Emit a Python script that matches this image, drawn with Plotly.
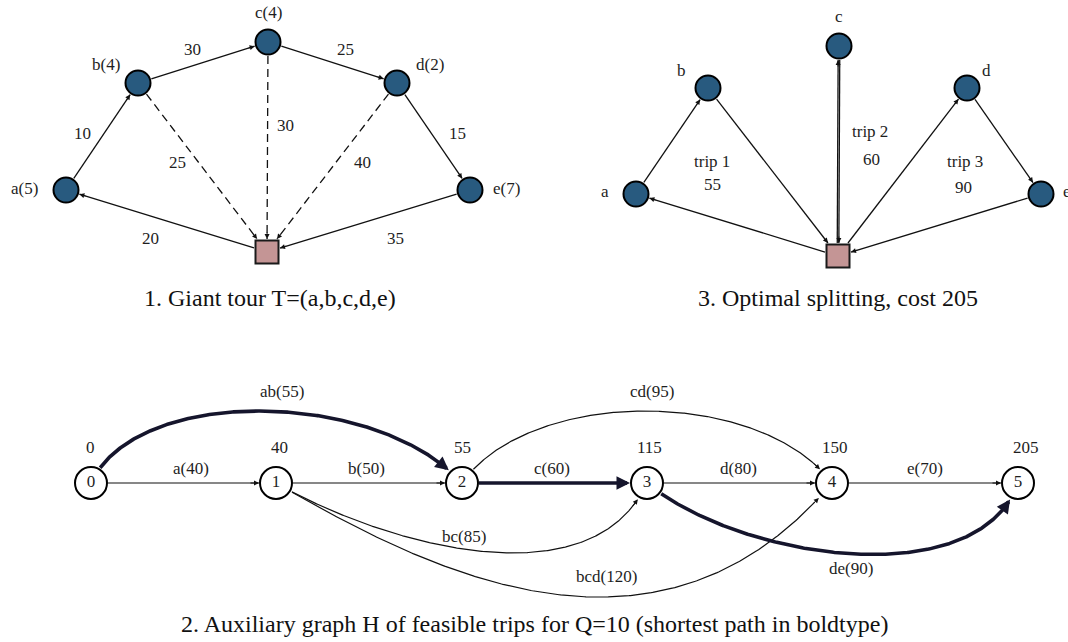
import numpy as np
import plotly.graph_objects as go

# ------------------------------------------------------------------ data
CUSTOMERS = ["a", "b", "c", "d", "e"]
DEMANDS = [5, 4, 4, 2, 7]
TOUR_COSTS = [10, 30, 25, 15]          # a->b, b->c, c->d, d->e
RETURN_COSTS = [25, 30, 40]            # b, c, d -> depot (dashed)
DEPOT_A_COST = 20
E_DEPOT_COST = 35
TRIP_NAMES = ["trip 1", "trip 2", "trip 3"]
TRIP_COSTS = [55, 60, 90]
AUX_NODES = [0, 1, 2, 3, 4, 5]
AUX_LABELS = [0, 40, 55, 115, 150, 205]
ARC_FROM = [0, 1, 2, 3, 4, 0, 2, 1, 1, 3]
ARC_TO = [1, 2, 3, 4, 5, 2, 4, 3, 4, 5]
ARC_TRIP = ["a", "b", "c", "d", "e", "ab", "cd", "bc", "bcd", "de"]
ARC_COST = [40, 50, 60, 80, 70, 55, 95, 85, 120, 90]
SHORTEST = [(0, 2), (2, 3), (3, 5)]
CAPTIONS = ["1. Giant tour T=(a,b,c,d,e)",
            "3. Optimal splitting, cost 205",
            "2. Auxiliary graph H of feasible trips for Q=10 (shortest path in boldtype)"]

# ---------------------------------------------------------------- layout
W, H = 1068, 642
FONT = "Liberation Serif"
LBL = 17
CAP = 24
BLUE = "#285a7f"
DEPOT_FILL = "#c49595"
INK = "#111111"
BOLD = "#15152c"
R_CUST = 14
H_DEPOT = 13
R_AUX = 17

P1 = {"a": (66, 190), "b": (138, 83), "c": (268, 42), "d": (397, 83), "e": (470, 190), "D": (267, 252)}
P2 = {"a": (636, 194), "b": (708, 88), "c": (839, 46), "d": (967, 88), "e": (1041, 194), "D": (838, 256)}
AUX_X = [91, 276, 462, 647, 832, 1018]
AUX_Y = 483

P1_NODE_LBL = [(24, 188), (106, 64), (268, 12), (430, 64), (506, 188)]
P1_TOUR_LBL = [(82, 133), (192, 49), (345, 49), (457, 133)]
P1_RET_LBL = [(177, 162), (285, 125), (362, 162)]
P1_DA_LBL = (150, 238)
P1_ED_LBL = (395, 238)
P2_NODE_LBL = [(605, 191), (681, 70), (839, 16), (986, 70), (1067, 191)]
P2_TRIP_LBL = [(712, 161), (870, 131), (965, 161)]
P2_COST_LBL = [(712, 184), (871, 159), (963, 187)]
AUX_TOP_Y = 447
AUX_TOP_DX = [-1, 3, 0, 2, 3, 8]
ARC_LBL = [(191, 468), (366, 468), (552, 468), (738, 468), (925, 468),
           (282, 391), (652, 391), (464, 536), (606, 576), (851, 568)]
# cubic control points (relative offsets from start / end nodes) for curved arcs
CURVE_CTRL = {(0, 2): ((45, -98), (-85, -94)),
              (2, 4): ((68, -96), (-72, -96)),
              (1, 3): ((100, 58), (-57, 123)),
              (1, 4): ((150, 87), (-174, 206)),
              (3, 5): ((93, 77), (-40, 112))}
CAPTION_POS = [(270, 298), (838, 298), (534, 624)]

fig = go.Figure()
annotations = []


def add_line(xs, ys, width=1.3, color=INK, dash="solid"):
    fig.add_trace(go.Scatter(x=list(xs), y=list(ys), mode="lines",
                             line=dict(color=color, width=width, dash=dash),
                             hoverinfo="skip"))


def add_head(tip, u, width=1.0, color=INK, size=1.0, back=8):
    annotations.append(dict(x=tip[0], y=tip[1], ax=tip[0] - back * u[0], ay=tip[1] - back * u[1],
                            xref="x", yref="y", axref="x", ayref="y", text="",
                            showarrow=True, arrowhead=2, arrowsize=size, arrowwidth=width,
                            arrowcolor=color, standoff=0))


def add_text(pos, text, size=LBL, color="#1e1e1e"):
    annotations.append(dict(x=pos[0], y=pos[1], xref="x", yref="y", text=text,
                            showarrow=False, font=dict(family=FONT, size=size, color=color)))


def boundary(u, kind):
    if kind == "D":
        return H_DEPOT / max(abs(u[0]), abs(u[1]))
    return R_CUST


def straight(p, q, kp, kq, dash="solid", offset=0.0, width=1.3):
    p = np.array(p, float)
    q = np.array(q, float)
    u = (q - p) / np.linalg.norm(q - p)
    n = np.array([-u[1], u[0]])
    s = p + u * boundary(u, kp) + n * offset
    e = q - u * boundary(u, kq) + n * offset
    add_line([s[0], e[0]], [s[1], e[1]], dash=dash, width=width)
    add_head(e, u, width=1.0)


# -------------------------------------------------- panel 1: giant tour
keys = CUSTOMERS
for i in range(4):
    straight(P1[keys[i]], P1[keys[i + 1]], "c", "c")
straight(P1["e"], P1["D"], "c", "D")
straight(P1["D"], P1["a"], "D", "c")
for k in ["b", "c", "d"]:
    straight(P1[k], P1["D"], "c", "D", dash="8px,5px")

# -------------------------------------------------- panel 2: split trips
straight(P2["D"], P2["a"], "D", "c")
straight(P2["a"], P2["b"], "c", "c")
straight(P2["b"], P2["D"], "c", "D")
straight(P2["D"], P2["c"], "D", "c", offset=-0.8)
straight(P2["c"], P2["D"], "c", "D", offset=-0.8)
straight(P2["D"], P2["d"], "D", "c")
straight(P2["d"], P2["e"], "c", "c")
straight(P2["e"], P2["D"], "c", "D")

# -------------------------------------------------- panel 3: auxiliary graph
for i, (f, t) in enumerate(zip(ARC_FROM, ARC_TO)):
    bold = (f, t) in SHORTEST
    lw = 3.6 if bold else 1.2
    col = BOLD if bold else INK
    p0 = np.array([AUX_X[f], AUX_Y], float)
    p3 = np.array([AUX_X[t], AUX_Y], float)
    if (f, t) in CURVE_CTRL:
        d1, d2 = CURVE_CTRL[(f, t)]
        c1 = p0 + np.array(d1)
        c2 = p3 + np.array(d2)
        tt = np.linspace(0, 1, 400)[:, None]
        pts = ((1 - tt) ** 3) * p0 + 3 * ((1 - tt) ** 2) * tt * c1 + 3 * (1 - tt) * tt ** 2 * c2 + tt ** 3 * p3
        keep = (np.linalg.norm(pts - p0, axis=1) > R_AUX + 0.5) & (np.linalg.norm(pts - p3, axis=1) > R_AUX + 1)
        pts = pts[keep]
        tip = pts[-1]
        u = pts[-1] - pts[-12]
        u = u / np.linalg.norm(u)
        add_line(pts[:-3, 0], pts[:-3, 1], width=lw, color=col)
        add_head(tip, u, width=lw if bold else 1.0, color=col, size=0.75 if bold else 1.0, back=10)
    else:
        u = np.array([1.0, 0.0])
        s = p0 + u * R_AUX
        e = p3 - u * R_AUX
        add_line([s[0], e[0] - (3 if bold else 0)], [s[1], e[1]], width=lw, color=col)
        add_head(e, u, width=lw if bold else 1.0, color=col, size=0.75 if bold else 1.0, back=10)
    add_text(ARC_LBL[i], f"{ARC_TRIP[i]}({ARC_COST[i]})")

# -------------------------------------------------- nodes
for P in (P1, P2):
    fig.add_trace(go.Scatter(x=[P[k][0] for k in CUSTOMERS], y=[P[k][1] for k in CUSTOMERS],
                             mode="markers", marker=dict(size=25, color=BLUE, line=dict(color="#000", width=2)),
                             hoverinfo="skip"))
    fig.add_trace(go.Scatter(x=[P["D"][0]], y=[P["D"][1]], mode="markers",
                             marker=dict(symbol="square", size=23, color=DEPOT_FILL,
                                         line=dict(color="#1a1a1a", width=2)),
                             hoverinfo="skip"))

fig.add_trace(go.Scatter(x=AUX_X, y=[AUX_Y] * len(AUX_X), mode="markers+text",
                         text=[str(n) for n in AUX_NODES], textposition="middle center",
                         textfont=dict(family=FONT, size=LBL, color="#1e1e1e"),
                         marker=dict(size=32, color="white", line=dict(color="#000", width=2)),
                         hoverinfo="skip"))

# -------------------------------------------------- texts
for i, k in enumerate(CUSTOMERS):
    add_text(P1_NODE_LBL[i], f"{k}({DEMANDS[i]})")
    add_text(P2_NODE_LBL[i], k)
for i, c in enumerate(TOUR_COSTS):
    add_text(P1_TOUR_LBL[i], str(c))
for i, c in enumerate(RETURN_COSTS):
    add_text(P1_RET_LBL[i], str(c))
add_text(P1_DA_LBL, str(DEPOT_A_COST))
add_text(P1_ED_LBL, str(E_DEPOT_COST))
for i in range(3):
    add_text(P2_TRIP_LBL[i], TRIP_NAMES[i])
    add_text(P2_COST_LBL[i], str(TRIP_COSTS[i]))
for i, v in enumerate(AUX_LABELS):
    add_text((AUX_X[i] + AUX_TOP_DX[i], AUX_TOP_Y), str(v))
for i, cap in enumerate(CAPTIONS):
    add_text(CAPTION_POS[i], cap, size=CAP, color="#111")

fig.update_layout(width=W, height=H, margin=dict(l=0, r=0, t=0, b=0),
                  paper_bgcolor="white", plot_bgcolor="white", showlegend=False,
                  xaxis=dict(range=[0, W], visible=False, fixedrange=True),
                  yaxis=dict(range=[H, 0], visible=False, fixedrange=True),
                  annotations=annotations)
fig.write_html("out.html", config={"displayModeBar": False},
               post_script="document.body.style.margin='0px';document.body.style.overflow='hidden';")
